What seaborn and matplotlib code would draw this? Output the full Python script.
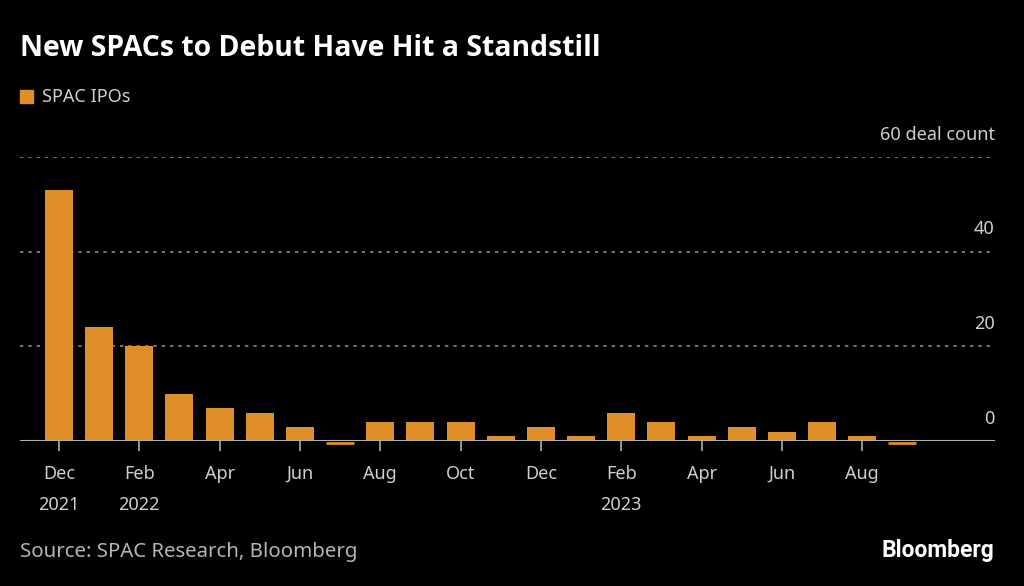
import pandas as pd
import matplotlib.pyplot as plt
import seaborn as sns

# Monthly SPAC IPO deal counts, Dec 2021 - Sep 2023
months = ["Dec 2021", "Jan 2022", "Feb 2022", "Mar 2022", "Apr 2022", "May 2022",
          "Jun 2022", "Jul 2022", "Aug 2022", "Sep 2022", "Oct 2022", "Nov 2022",
          "Dec 2022", "Jan 2023", "Feb 2023", "Mar 2023", "Apr 2023", "May 2023",
          "Jun 2023", "Jul 2023", "Aug 2023", "Sep 2023"]
spac_ipos = [53, 24, 20, 10, 7, 6, 3, 0, 4, 4, 4, 1, 3, 1, 6, 4, 1, 3, 2, 4, 1, 0]

tick_labels = ["Dec\n2021", "Feb\n2022", "Apr", "Jun", "Aug", "Oct",
               "Dec", "Feb\n2023", "Apr", "Jun", "Aug"]
y_ticks = [0, 20, 40, 60]
y_labels = ["0", "20", "40", "60 deal count"]

bar_color = "#e08e28"
bg = "black"
text_gray = "#cfcfcf"

df = pd.DataFrame({"month": range(len(months)), "count": spac_ipos})

sns.set_style("dark")
plt.rcParams["font.family"] = ["Noto Sans", "DejaVu Sans"]

fig = plt.figure(figsize=(10.24, 5.86), dpi=100, facecolor=bg)
ax = fig.add_axes([0.0195, 0.2474, 0.952, 0.4846])
ax.set_facecolor(bg)

sns.barplot(data=df, x="month", y="count", native_scale=True, width=0.7,
            color=bar_color, saturation=1, linewidth=0, ax=ax)

# zero months still get a thin stub at the baseline
zeros = df[df["count"] == 0]["month"]
ax.hlines([-0.35] * len(zeros), zeros - 0.35, zeros + 0.35, color=bar_color,
          lw=2, zorder=3, clip_on=False)

ax.set_xlim(-0.97, 23.3)
ax.set_ylim(0, 60)

# dotted gridlines, labels sit above them on the right
for y in y_ticks[1:]:
    ax.axhline(y, color="#8a8a8a", lw=1.2, ls=(0, (2, 3)), zorder=0)
ax.axhline(0, color="#b0b0b0", lw=1.5, zorder=4)
ax.set_yticks([])
for y, lab in zip(y_ticks, y_labels):
    ax.text(1.0, y + 2.8, lab, transform=ax.get_yaxis_transform(),
            ha="right", va="bottom", color=text_gray, fontsize=13)

ax.set_xticks(df["month"][::2])
ax.set_xticklabels(tick_labels, color=text_gray, fontsize=13, linespacing=1.95)
ax.tick_params(axis="x", length=7, width=1.2, color="#b0b0b0", pad=10, bottom=True)
ax.set_xlabel("")
ax.set_ylabel("")
for s in ax.spines.values():
    s.set_visible(False)
ax.grid(False)

fig.text(0.0195, 0.918, "New SPACs to Debut Have Hit a Standstill", color="white",
         fontsize=20.4, fontweight="bold", family=["Open Sans", "DejaVu Sans"],
         va="center", ha="left")
fig.patches.append(plt.Rectangle((0.0195, 0.824), 0.0127, 0.022, transform=fig.transFigure,
                                 color=bar_color))
fig.text(0.041, 0.835, "SPAC IPOs", color=text_gray, fontsize=13, va="center", ha="left")
fig.text(0.0195, 0.058, "Source: SPAC Research, Bloomberg", color="#b5b5b5",
         fontsize=14.7, va="center", ha="left")
fig.text(0.971, 0.061, "Bloomberg", color="white", fontsize=16.5, fontweight="bold",
         family=["Roboto", "DejaVu Sans"], va="center", ha="right")

fig.savefig("out.png", dpi=100, facecolor=bg)
